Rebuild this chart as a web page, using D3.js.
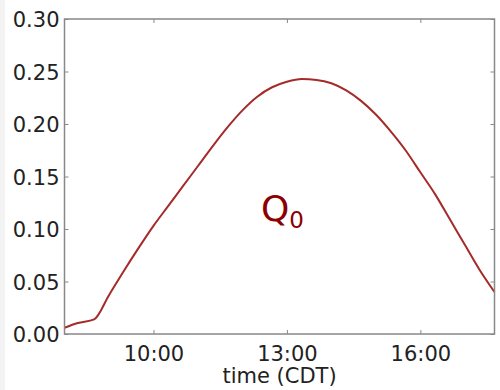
<!DOCTYPE html>
<html><head><meta charset="utf-8">
<script src="https://cdn.jsdelivr.net/npm/d3@7"></script>
<style>body{margin:0;background:#fff}svg{display:block}text{font-family:"DejaVu Sans",sans-serif}</style>
</head><body><svg id="c" width="500" height="390"></svg>
<script>
const times = ["08:00","08:18","08:40","09:00","09:20","09:40","10:00","10:20","10:40","11:00","11:20","11:40","12:00","12:20","12:40","13:00","13:20","13:40","14:00","14:20","14:40","15:00","15:20","15:40","16:00","16:20","16:40","17:00","17:20","17:40"];
const q0 = [0.006,0.0105,0.014,0.037,0.060,0.082,0.103,0.122,0.141,0.160,0.179,0.197,0.213,0.226,0.235,0.2402,0.2428,0.2420,0.2388,0.232,0.222,0.209,0.193,0.175,0.154,0.133,0.109,0.085,0.061,0.040];
const xTicks = ["10:00","13:00","16:00"];
const yTicks = [0,0.05,0.10,0.15,0.20,0.25,0.30];
const xLabel = "time (CDT)";

const parse = d3.timeParse("%H:%M");
const svg = d3.select("#c");
svg.append("rect").attr("x",0).attr("y",0).attr("width",5).attr("height",390).attr("fill","#f3f3f3");
const L=64.5,R=494.5,T=19,B=334;
const x = d3.scaleTime().domain([parse("08:00"),parse("17:40")]).range([L,R]);
const y = d3.scaleLinear().domain([0,0.30]).range([B,T]);
const frame="#888";

const g = svg.append("g");
const xa = d3.axisBottom(x).tickValues(xTicks.map(parse)).tickFormat(d3.timeFormat("%H:%M")).tickSize(-4).tickPadding(7);
const gx = g.append("g").attr("transform",`translate(0,${B})`).call(xa);
gx.select(".domain").remove();
gx.selectAll("line").attr("stroke",frame);
gx.selectAll("text").attr("font-size",21).attr("fill","#222").attr("dy","0.95em");
const xt = d3.axisTop(x).tickValues(xTicks.map(parse)).tickSize(-4).tickFormat("");
const gxt = g.append("g").attr("transform",`translate(0,${T})`).call(xt);
gxt.select(".domain").remove(); gxt.selectAll("line").attr("stroke",frame);

const ya = d3.axisLeft(y).tickValues(yTicks).tickFormat(d3.format(".2f")).tickSize(-4).tickPadding(5);
const gy = g.append("g").attr("transform",`translate(${L},0)`).call(ya);
gy.select(".domain").remove(); gy.selectAll("line").attr("stroke",frame);
gy.selectAll("text").attr("font-size",21).attr("fill","#222").attr("dy","0.36em");
const yr = d3.axisRight(y).tickValues(yTicks).tickSize(-4).tickFormat("");
const gyr = g.append("g").attr("transform",`translate(${R},0)`).call(yr);
gyr.select(".domain").remove(); gyr.selectAll("line").attr("stroke",frame);

const line = d3.line().x((d,i)=>x(parse(times[i]))).y(d=>y(d)).curve(d3.curveMonotoneX);
svg.append("path").datum(q0).attr("d",line).attr("fill","none").attr("stroke","#a52a2a").attr("stroke-width",2);

svg.append("rect").attr("x",L).attr("y",T).attr("width",R-L).attr("height",B-T).attr("fill","none").attr("stroke",frame).attr("stroke-width",1.5);

svg.append("text").attr("x",(L+R)/2).attr("y",383).attr("text-anchor","middle").attr("font-size",21).attr("fill","#222").text(xLabel);
const qt = svg.append("text").attr("x",261).attr("y",221).attr("font-size",36).attr("fill","#8b0000");
qt.append("tspan").text("Q");
qt.append("tspan").attr("font-size",23).attr("dy",7).text("0");
</script></body></html>
